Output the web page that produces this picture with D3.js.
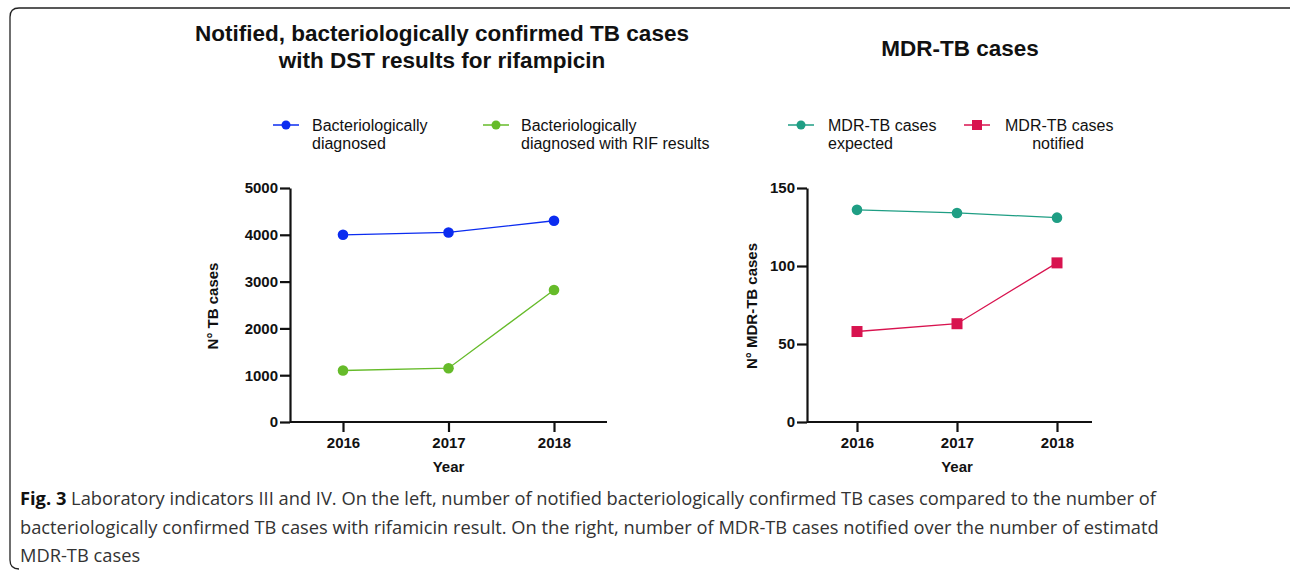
<!DOCTYPE html>
<html>
<head>
<meta charset="utf-8">
<script src="https://cdn.jsdelivr.net/npm/d3@7"></script>
<style>
  body { margin: 0; background: #fff; }
  svg { display: block; }
  .tick text { font-family: Arial, "Liberation Sans", sans-serif; font-weight: bold; font-size: 15px; fill: #111; }
</style>
</head>
<body>
<div id="chart"></div>
<script>
(function() {
    var width = 1290,
    height = 571;

    // data
    var years = [2016, 2017, 2018];
    var bactDiagnosed = [4000, 4050, 4300];
    var bactWithRif = [1100, 1150, 2820];
    var mdrExpected = [136, 134, 131];
    var mdrNotified = [58, 63, 102];
    var leftTicks = [0, 1000, 2000, 3000, 4000, 5000];
    var rightTicks = [0, 50, 100, 150];

    var font = "Arial, 'Liberation Sans', sans-serif";

    var svg = d3.select("#chart")
        .append("svg")
        .attr("width", width)
        .attr("height", height);

    // frame round the figure
    svg.append("path")
        .attr("d", "M1300,8 H19 Q10,8 10,17 V560 Q10,569 19,569")
        .attr("fill", "none")
        .attr("stroke", "#222")
        .attr("stroke-width", 1.3);

    function panel(opt) {
        var x = d3.scalePoint().domain(years).range(opt.xr);
        var y = d3.scaleLinear().domain(opt.ydom).range([422, 188]);
        var g = svg.append("g");

        g.append("g")
            .attr("transform", "translate(0,422)")
            .call(d3.axisBottom(x).tickSize(10).tickPadding(5).tickSizeOuter(0))
            .call(function(a) {
                a.select(".domain").attr("d", "M" + opt.axisX + ",0H" + opt.xEnd);
            });

        g.append("g")
            .attr("transform", "translate(" + opt.axisX + ",0)")
            .call(d3.axisLeft(y).tickValues(opt.ticks).tickFormat(d3.format("d"))
                .tickSize(10).tickPadding(2).tickSizeOuter(0));

        g.selectAll(".domain, .tick line").attr("stroke", "#111").attr("stroke-width", 2.2);

        g.append("text")
            .attr("transform", "translate(" + opt.ylabX + ",306) rotate(-90)")
            .attr("text-anchor", "middle")
            .attr("font-family", font).attr("font-weight", "bold").attr("font-size", 15).attr("fill", "#111")
            .text(opt.ylab);

        g.append("text")
            .attr("x", x(2017)).attr("y", 472)
            .attr("text-anchor", "middle")
            .attr("font-family", font).attr("font-weight", "bold").attr("font-size", 15).attr("fill", "#111")
            .text("Year");

        opt.series.forEach(function(s) {
            var line = d3.line()
                .x(function(d, i) { return x(years[i]); })
                .y(function(d) { return y(d); });
            g.append("path")
                .datum(s.values)
                .attr("d", line)
                .attr("fill", "none")
                .attr("stroke", s.color)
                .attr("stroke-width", 1.3);
            var m = g.selectAll(null).data(s.values).enter();
            if (s.shape == "square") {
                m.append("rect")
                    .attr("x", function(d, i) { return x(years[i]) - 5.5; })
                    .attr("y", function(d) { return y(d) - 5.5; })
                    .attr("width", 11).attr("height", 11)
                    .attr("fill", s.color);
            } else {
                m.append("circle")
                    .attr("cx", function(d, i) { return x(years[i]); })
                    .attr("cy", function(d) { return y(d); })
                    .attr("r", 5.3)
                    .attr("fill", s.color);
            }
        });

        // legend
        opt.series.forEach(function(s) {
            var lg = g.append("g");
            lg.append("line")
                .attr("x1", s.lx).attr("x2", s.lx + 26)
                .attr("y1", 125).attr("y2", 125)
                .attr("stroke", s.color).attr("stroke-width", 1.5);
            if (s.shape == "square") {
                lg.append("rect").attr("x", s.lx + 8).attr("y", 120).attr("width", 10).attr("height", 10).attr("fill", s.color);
            } else {
                lg.append("circle").attr("cx", s.lx + 13).attr("cy", 125).attr("r", 4.5).attr("fill", s.color);
            }
            var t = lg.append("text")
                .attr("font-family", font).attr("font-size", 16).attr("fill", "#111");
            s.label.forEach(function(l, i) {
                t.append("tspan")
                    .attr("x", i == 0 ? s.tx : (s.tx2 || s.tx))
                    .attr("y", 131 + i * 18)
                    .attr("text-anchor", i == 0 ? "start" : (s.anchor2 || "start"))
                    .text(l);
            });
        });

        var tt = g.append("text")
            .attr("text-anchor", "middle")
            .attr("font-family", font).attr("font-weight", "bold").attr("font-size", 22.5).attr("fill", "#111");
        opt.title.forEach(function(l, i) {
            tt.append("tspan").attr("x", opt.titleX).attr("y", opt.titleY + i * 27).text(l);
        });
    }

    panel({
        xr: [343, 554], ydom: [0, 5000], ticks: leftTicks,
        axisX: 290, xEnd: 607, ylabX: 218, ylab: "N° TB cases",
        title: ["Notified, bacteriologically confirmed TB cases", "with DST results for rifampicin"],
        titleX: 442, titleY: 41,
        series: [
            { values: bactDiagnosed, color: "#0b2cf0", shape: "circle", lx: 273, tx: 312, label: ["Bacteriologically", "diagnosed"] },
            { values: bactWithRif, color: "#66bb2a", shape: "circle", lx: 483, tx: 521, label: ["Bacteriologically", "diagnosed with RIF results"] }
        ]
    });

    panel({
        xr: [857, 1057], ydom: [0, 150], ticks: rightTicks,
        axisX: 807, xEnd: 1092, ylabX: 757, ylab: "N° MDR-TB cases",
        title: ["MDR-TB cases"],
        titleX: 960, titleY: 56,
        series: [
            { values: mdrExpected, color: "#1f9e84", shape: "circle", lx: 788, tx: 828, label: ["MDR-TB cases", "expected"] },
            { values: mdrNotified, color: "#d8134f", shape: "square", lx: 964, tx: 1005, tx2: 1058, anchor2: "middle", label: ["MDR-TB cases", "notified"] }
        ]
    });

    // caption
    var capFont = "'Open Sans', sans-serif";
    var cap = ["bacteriologically confirmed TB cases with rifamicin result. On the right, number of MDR-TB cases notified over the number of estimatd",
               "MDR-TB cases"];
    var c1 = svg.append("text")
        .attr("x", 20).attr("y", 505)
        .attr("font-family", capFont).attr("font-size", 18.3).attr("fill", "#333");
    c1.append("tspan").attr("font-weight", "bold").attr("fill", "#111").text("Fig. 3");
    c1.append("tspan").text(" Laboratory indicators III and IV. On the left, number of notified bacteriologically confirmed TB cases compared to the number of");
    cap.forEach(function(l, i) {
        svg.append("text")
            .attr("x", 20).attr("y", 534 + i * 28)
            .attr("font-family", capFont).attr("font-size", 18.3).attr("fill", "#333")
            .text(l);
    });
})();
</script>
</body>
</html>
